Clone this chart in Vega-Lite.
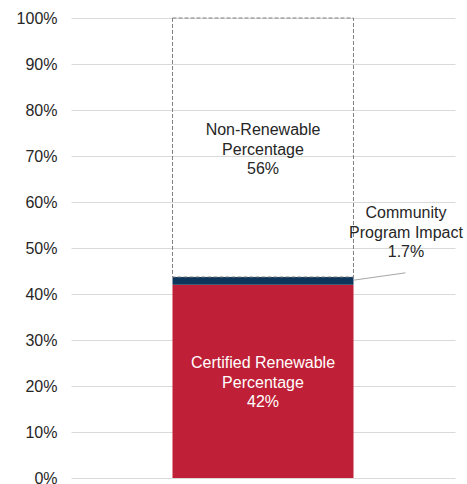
{
  "$schema": "https://vega.github.io/schema/vega-lite/v6.json",
  "autosize": "none",
  "width": 384,
  "height": 460,
  "padding": {"left": 71, "top": 18, "right": 12, "bottom": 6},
  "background": "white",
  "config": {
    "view": {"stroke": null},
    "font": "Liberation Sans",
    "text": {"font": "Liberation Sans"}
  },
  "datasets": {
    "segments": [
      {"cat": "Total", "segment": "Certified Renewable", "start": 0, "end": 0.42},
      {"cat": "Total", "segment": "Community Program", "start": 0.42, "end": 0.437},
      {"cat": "Total", "segment": "Non-Renewable", "start": 0.437, "end": 1.0}
    ],
    "labels": [
      {"cat": "Total", "label": "Non-Renewable|Percentage|56%", "pos": 0.756, "inside": "no"},
      {"cat": "Total", "label": "Certified Renewable|Percentage|42%", "pos": 0.249, "inside": "yes"}
    ],
    "annotation": [
      {"cat": "Total", "label": "Community|Program Impact|1.7%", "pos": 0.576, "from": 0.43, "to": 0.446}
    ]
  },
  "layer": [
    {
      "data": {"name": "segments"},
      "transform": [{"filter": "datum.segment !== 'Non-Renewable'"}],
      "mark": {"type": "bar"},
      "encoding": {
        "x": {
          "field": "cat", "type": "nominal",
          "scale": {"paddingInner": 0, "paddingOuter": 0.5608},
          "axis": null
        },
        "y": {
          "field": "start", "type": "quantitative",
          "scale": {"domain": [0, 1], "nice": false},
          "axis": {
            "format": ".0%",
            "values": [0, 0.1, 0.2, 0.3, 0.4, 0.5, 0.6, 0.7, 0.8, 0.9, 1.0],
            "title": null,
            "domain": false,
            "ticks": false,
            "grid": true,
            "gridColor": "#d9d9d9",
            "gridWidth": 1,
            "labelFont": "Liberation Sans",
            "labelFontSize": 16,
            "labelColor": "#262626",
            "labelPadding": 14
          }
        },
        "y2": {"field": "end"},
        "color": {
          "field": "segment", "type": "nominal",
          "scale": {"domain": ["Certified Renewable", "Community Program"], "range": ["#bf1f37", "#0d365a"]},
          "legend": null
        }
      }
    },
    {
      "data": {"name": "segments"},
      "transform": [{"filter": "datum.segment === 'Non-Renewable'"}],
      "mark": {"type": "bar", "fill": "transparent", "stroke": "#808080", "strokeWidth": 1, "strokeDash": [4, 2]},
      "encoding": {
        "x": {"field": "cat", "type": "nominal"},
        "y": {"field": "start", "type": "quantitative"},
        "y2": {"field": "end"}
      }
    },
    {
      "data": {"name": "labels"},
      "transform": [{"filter": "datum.inside === 'no'"}],
      "mark": {"type": "text", "fontSize": 16, "lineHeight": 19.5, "lineBreak": "|", "baseline": "middle", "align": "center", "color": "#262626"},
      "encoding": {
        "x": {"field": "cat", "type": "nominal"},
        "y": {"field": "pos", "type": "quantitative"},
        "text": {"field": "label"}
      }
    },
    {
      "data": {"name": "labels"},
      "transform": [{"filter": "datum.inside === 'yes'"}],
      "mark": {"type": "text", "fontSize": 16, "lineHeight": 19.5, "lineBreak": "|", "baseline": "middle", "align": "center", "color": "#ffffff"},
      "encoding": {
        "x": {"field": "cat", "type": "nominal"},
        "y": {"field": "pos", "type": "quantitative"},
        "text": {"field": "label"}
      }
    },
    {
      "data": {"name": "annotation"},
      "mark": {"type": "rule", "color": "#a6a6a6", "strokeWidth": 1, "x2Offset": 52},
      "encoding": {
        "x": {"field": "cat", "type": "nominal", "bandPosition": 1},
        "x2": {"field": "cat", "bandPosition": 1},
        "y": {"field": "from", "type": "quantitative"},
        "y2": {"field": "to"}
      }
    },
    {
      "data": {"name": "annotation"},
      "mark": {"type": "text", "fontSize": 16, "lineHeight": 19.5, "lineBreak": "|", "baseline": "middle", "align": "center", "dx": 143, "color": "#262626"},
      "encoding": {
        "x": {"field": "cat", "type": "nominal"},
        "y": {"field": "pos", "type": "quantitative"},
        "text": {"field": "label"}
      }
    }
  ]
}
